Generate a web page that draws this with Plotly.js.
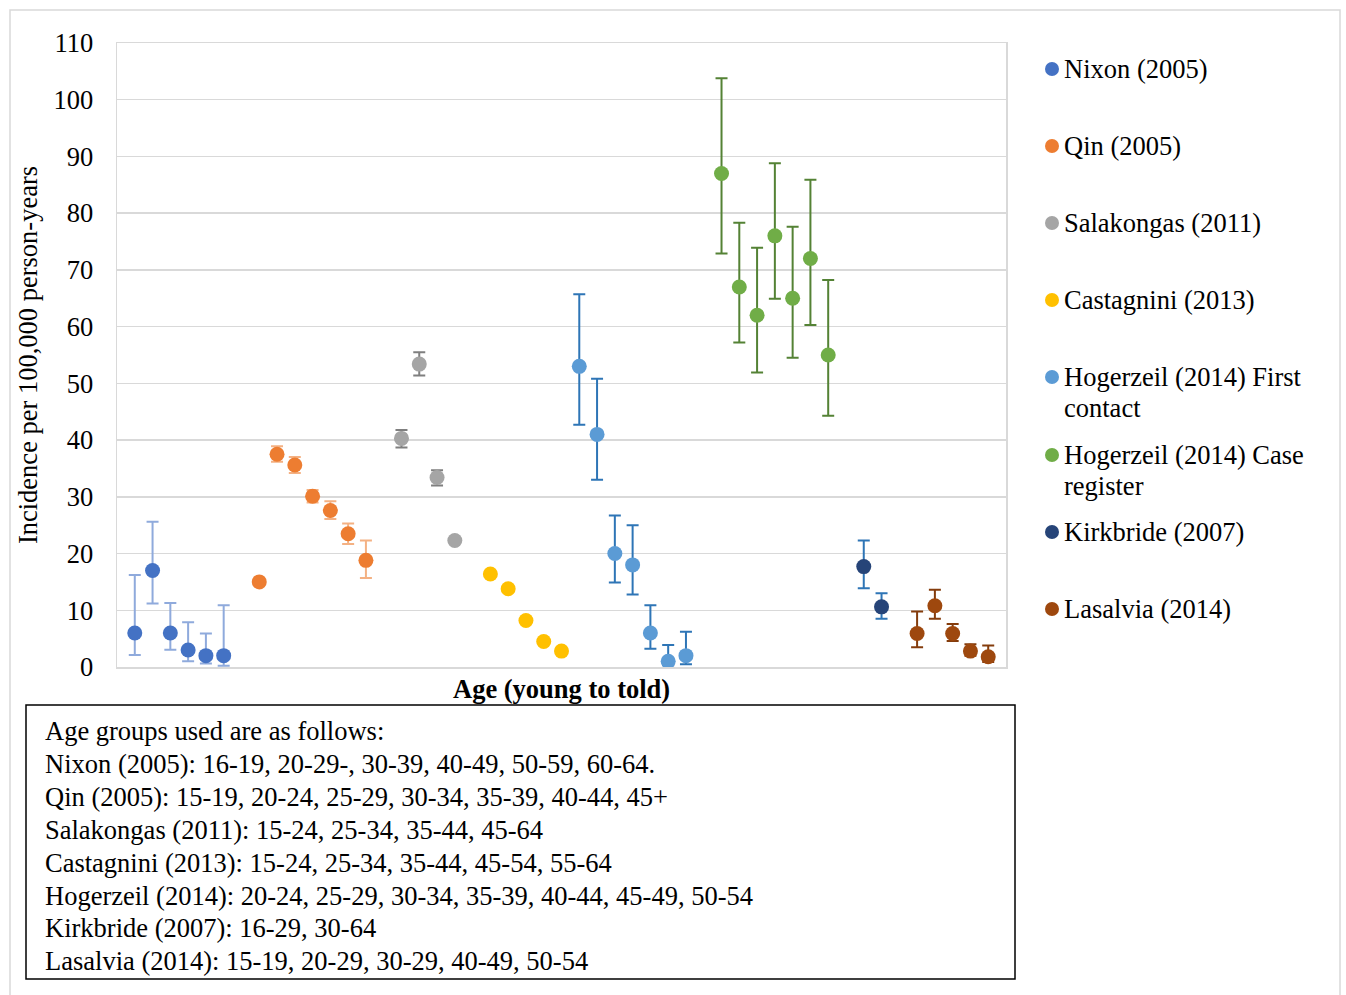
<!DOCTYPE html>
<html><head><meta charset="utf-8">
<script src="https://cdn.plot.ly/plotly-3.0.1.min.js"></script>
<style>body{margin:0;background:#fff}</style>
</head><body><div id="chart" style="width:1346px;height:995px"></div>
<script>
// ---- data ----
const seriesNames = ["Nixon (2005)","Qin (2005)","Salakongas (2011)","Castagnini (2013)","Hogerzeil (2014) First contact","Hogerzeil (2014) Case register","Kirkbride (2007)","Lasalvia (2014)"];
const legendLines = [["Nixon (2005)"],["Qin (2005)"],["Salakongas (2011)"],["Castagnini (2013)"],["Hogerzeil (2014) First","contact"],["Hogerzeil (2014) Case","register"],["Kirkbride (2007)"],["Lasalvia (2014)"]];
const nixonX = [1,2,3,4,5,6];
const nixonY = [6,17,6,3,2,2];
const nixonHi = [16.2,25.6,11.3,7.9,5.9,10.9];
const nixonLo = [2.1,11.2,3.05,1.0,0.6,0.2];
const qinX = [8,9,10,11,12,13,14];
const qinY = [15,37.5,35.6,30.1,27.6,23.5,18.8];
const qinHi = [15,38.9,37.0,31.2,29.2,25.3,22.3];
const qinLo = [15,36.2,34.2,29.0,26.1,21.7,15.7];
const salX = [16,17,18,19];
const salY = [40.3,53.4,33.4,22.3];
const salHi = [41.8,55.5,34.7,22.3];
const salLo = [38.7,51.4,32.0,22.3];
const casX = [21,22,23,24,25];
const casY = [16.4,13.8,8.2,4.5,2.8];
const hfcX = [26,27,28,29,30,31,32];
const hfcY = [53,41,20,18,6,1,2];
const hfcHi = [65.7,50.8,26.7,25.0,10.9,3.9,6.2];
const hfcLo = [42.7,33.0,14.9,12.8,3.2,0.3,0.5];
const hcrX = [34,35,36,37,38,39,40];
const hcrY = [87,67,62,76,65,72,55];
const hcrHi = [103.8,78.3,73.9,88.8,77.6,85.9,68.2];
const hcrLo = [72.9,57.2,51.9,64.9,54.5,60.3,44.3];
const kirX = [42,43];
const kirY = [17.7,10.6];
const kirHi = [22.3,13.0];
const kirLo = [13.9,8.5];
const lasX = [45,46,47,48,49];
const lasY = [5.9,10.8,5.9,2.8,1.8];
const lasHi = [9.8,13.6,7.6,4.0,3.8];
const lasLo = [3.5,8.5,4.6,2.0,0.9];
const yTicks = [0,10,20,30,40,50,60,70,80,90,100,110];
const noteLines = [
 "Age groups used are as follows:",
 "Nixon (2005): 16-19, 20-29-, 30-39, 40-49, 50-59, 60-64.",
 "Qin (2005): 15-19, 20-24, 25-29, 30-34, 35-39, 40-44, 45+",
 "Salakongas (2011): 15-24, 25-34, 35-44, 45-64",
 "Castagnini (2013): 15-24, 25-34, 35-44, 45-54, 55-64",
 "Hogerzeil (2014): 20-24, 25-29, 30-34, 35-39, 40-44, 45-49, 50-54",
 "Kirkbride (2007): 16-29, 30-64",
 "Lasalvia (2014): 15-19, 20-29, 30-29, 40-49, 50-54"
];
// ---- styling ----
const markerColors = ["#4472C4","#ED7D31","#A5A5A5","#FFC000","#5B9BD5","#70AD47","#264478","#9E480E"];
const errColors = ["#8FAADC","#F4B183","#7F7F7F",null,"#2E75B6","#548235","#2E75B6","#843C0C"];
const seriesData = [
 [nixonX,nixonY,nixonHi,nixonLo],
 [qinX,qinY,qinHi,qinLo],
 [salX,salY,salHi,salLo],
 [casX,casY,null,null],
 [hfcX,hfcY,hfcHi,hfcLo],
 [hcrX,hcrY,hcrHi,hcrLo],
 [kirX,kirY,kirHi,kirLo],
 [lasX,lasY,lasHi,lasLo]
];
const FONT = "Liberation Serif, Times New Roman, serif";
const FS = 26.5;
const traces = seriesData.map((s,i)=>{
  const [x,y,hi,lo] = s;
  const t = {x:x, y:y, type:"scatter", mode:"markers", name:seriesNames[i], showlegend:false,
    marker:{color:markerColors[i], size:15}, cliponaxis:false};
  if(hi){
    t.error_y = {type:"data", symmetric:false,
      array: hi.map((h,k)=>Math.max(0,h-y[k])),
      arrayminus: lo.map((l,k)=>Math.max(0,y[k]-l)),
      color: errColors[i], thickness:2, width:6};
  }
  return t;
});
// plot area in px
const L=117, R=1006, T=43, B=667, W=1346, H=995;
const px2x = p => (p-L)/(R-L);
const py2y = p => (B-p)/(B-T);
const annotations = [];
const shapes = [];
// outer frame
shapes.push({type:"rect", xref:"paper", yref:"paper", x0:px2x(10), x1:px2x(1340), y0:py2y(1010), y1:py2y(10), line:{color:"#D9D9D9", width:1.5}, layer:"below"});
// legend
const legTop = [69,146,223,300,377,455,532,609];
legendLines.forEach((lines,i)=>{
  shapes.push({type:"circle", xref:"paper", yref:"paper", xsizemode:"pixel", ysizemode:"pixel",
    xanchor:px2x(1052), yanchor:py2y(legTop[i]), x0:-7, x1:7, y0:-7, y1:7,
    fillcolor:markerColors[i], line:{width:0}});
  lines.forEach((ln,j)=>{
    annotations.push({xref:"paper", yref:"paper", x:px2x(1062), y:py2y(legTop[i]+31*j), xanchor:"left", yanchor:"middle",
      text:ln, showarrow:false, align:"left", font:{family:FONT, size:FS, color:"#000"}});
  });
});
// note box
shapes.push({type:"rect", xref:"paper", yref:"paper", x0:px2x(26), x1:px2x(1015), y0:py2y(979), y1:py2y(705), line:{color:"#000", width:1.5}});
noteLines.forEach((ln,i)=>{
  annotations.push({xref:"paper", yref:"paper", x:px2x(43), y:py2y(731+32.9*i), xanchor:"left", yanchor:"middle",
    text:ln, showarrow:false, align:"left", font:{family:FONT, size:FS, color:"#000"}});
});
// x title
annotations.push({xref:"paper", yref:"paper", x:px2x(561), y:py2y(689), xanchor:"center", yanchor:"middle",
  text:"<b>Age (young to told)</b>", showarrow:false, font:{family:FONT, size:FS, color:"#000"}});
const layout = {
  width:W, height:H, paper_bgcolor:"#fff", plot_bgcolor:"#fff",
  margin:{l:L, r:W-R, t:T, b:H-B, pad:0},
  font:{family:FONT, color:"#000"},
  xaxis:{range:[0,50], showticklabels:false, showgrid:false, zeroline:false, showline:true, mirror:true, linecolor:"#D9D9D9", linewidth:1.5, ticks:""},
  yaxis:{range:[0,110], tickvals:yTicks, ticktext:yTicks.map(String), showgrid:true, gridcolor:"#D9D9D9", gridwidth:1.5, zeroline:false,
    showline:true, mirror:true, linecolor:"#D9D9D9", linewidth:1.5, ticks:"", ticklabelstandoff:17,
    tickfont:{family:FONT, size:FS, color:"#000"},
    title:{text:"Incidence per 100,000 person-years", font:{family:FONT, size:FS, color:"#000"}, standoff:8}},
  shapes:shapes, annotations:annotations, showlegend:false
};
Plotly.newPlot("chart", traces, layout, {displayModeBar:false, staticPlot:true});
</script></body></html>
